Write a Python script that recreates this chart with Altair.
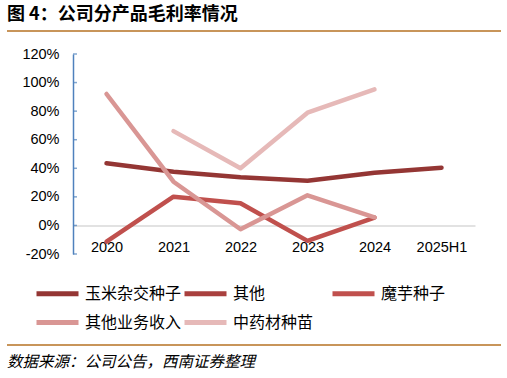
import altair as alt
import pandas as pd

years = ["2020", "2021", "2022", "2023", "2024", "2025H1"]
series_names = ["玉米杂交种子", "其他", "魔芋种子", "其他业务收入", "中药材种苗"]
corn = [0.435, 0.376, 0.337, 0.313, 0.369, 0.404]
other = [None, None, None, None, None, None]
konjac = [-0.113, 0.201, 0.155, -0.108, 0.055, None]
other_biz = [0.92, 0.306, -0.027, 0.211, 0.057, None]
herb = [None, 0.66, 0.40, 0.789, 0.952, None]
colors = ["#943634", "#A9403E", "#C0504D", "#D99694", "#E6B9B8"]
y_ticks = [-0.2, 0.0, 0.2, 0.4, 0.6, 0.8, 1.0, 1.2]

rows = []
for si, (name, vals) in enumerate(zip(series_names, [corn, other, konjac, other_biz, herb])):
    for yr, v in zip(years, vals):
        if v is not None:
            rows.append({"year": yr, "series": name, "value": v, "order": si})
df = pd.DataFrame(rows)

W, H = 402, 200
PL, PT = 73, 54

yscale = alt.Scale(domain=[-0.2, 1.2], nice=False, zero=False)
yaxis = alt.Axis(title=None, values=y_ticks, format=".0%", grid=False, ticks=False,
                 labelOverlap=False,
                 labelExpr="replace(datum.label, '\u2212', '-')",
                 domainColor="#4F81BD", domainWidth=1.5, labelPadding=14,
                 labelFont="Liberation Sans", labelFontSize=14.5, labelColor="#000")

lines = alt.Chart(df).mark_line(strokeWidth=4.5, strokeCap="round", strokeJoin="round").encode(
    x=alt.X("year:N", sort=years,
            scale=alt.Scale(type="point", padding=0.5, domain=years),
            axis=alt.Axis(title=None, labelAngle=0, ticks=False, domainColor="#D9D9D9",
                          domainWidth=1.5, offset=-28.5, labelPadding=15,
                          labelFont="Liberation Sans", labelFontSize=14.5, labelColor="#000")),
    y=alt.Y("value:Q", scale=yscale, axis=yaxis),
    color=alt.Color("series:N", sort=series_names,
                    scale=alt.Scale(domain=series_names, range=colors),
                    legend=alt.Legend(title=None, orient="none", legendX=-25, legendY=230,
                                      direction="horizontal",
                                      columns=3, gridAlign="all", columnPadding=-8,
                                      rowPadding=8, symbolType="M-3,0H3", symbolSize=196,
                                      symbolStrokeWidth=5, labelFont="Noto Sans CJK SC",
                                      labelFontSize=16, labelColor="#000", labelOffset=18,
                                      labelLimit=200)),
    order=alt.Order("order:Q"),
    detail="series:N",
)

tick_df = pd.DataFrame({"value": y_ticks})
ticks = alt.Chart(tick_df).mark_tick(orient="horizontal", size=4, thickness=1.5, color="#4F81BD").encode(
    y=alt.Y("value:Q", scale=yscale, axis=yaxis), x=alt.value(2)
)

one = alt.Data(values=[{"a": 1}])
title = alt.Chart(one).mark_text(text="图 4：公司分产品毛利率情况", font="Noto Sans CJK SC",
                                 fontWeight="bold", fontSize=18, align="left", baseline="middle",
                                 color="#000").encode(x=alt.value(7 - PL), y=alt.value(15 - PT))
rule_top = alt.Chart(one).mark_rule(color="#C8955A", strokeWidth=2).encode(
    x=alt.value(7 - PL), x2=alt.value(501 - PL), y=alt.value(31 - PT))
rule_bot = alt.Chart(one).mark_rule(color="#C8955A", strokeWidth=2).encode(
    x=alt.value(7 - PL), x2=alt.value(501 - PL), y=alt.value(345 - PT))
source = alt.Chart(one).mark_text(text="数据来源：公司公告，西南证券整理", font="Noto Sans CJK SC",
                                  fontStyle="italic", fontSize=15.5, align="left", baseline="middle",
                                  color="#000").encode(x=alt.value(7 - PL), y=alt.value(362 - PT))

chart = alt.layer(lines, ticks, title, rule_top, rule_bot, source).properties(
    width=W, height=H,
    autosize=alt.AutoSizeParams(type="none"),
    padding={"left": PL, "top": PT, "right": 507 - PL - W, "bottom": 378 - PT - H},
    background="white",
).configure_view(stroke=None)

chart.save("out.html", embed_options={"renderer": "svg", "actions": False})
